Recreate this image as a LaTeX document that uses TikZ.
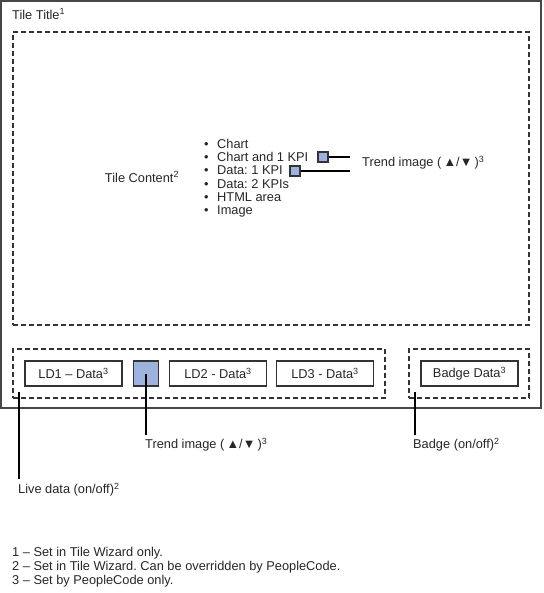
\documentclass[tikz,border=0pt]{standalone}
\usepackage{fontspec}
\setmainfont{Liberation Sans}
\definecolor{trendblue}{HTML}{9DB3DD}
\definecolor{edgegray}{HTML}{333333}
\frenchspacing
\begin{document}
\begin{tikzpicture}[x=1pt,y=-1pt]
        \tikzstyle{every node}=[inner sep=0pt, font=\fontsize{12.8}{15}\selectfont, text=black!85]
        \tikzstyle{zone}=[draw=edgegray, dashed, dash pattern=on 5pt off 3pt, line width=1.1pt, minimum height=49pt]
        \tikzstyle{databox}=[draw=edgegray, line width=1.3pt, minimum width=97pt, minimum height=25pt]
        \tikzstyle{trendbox}=[draw=edgegray, fill=trendblue, line width=1.3pt]
        \tikzstyle{edge}=[black, line width=1.2pt]
        \useasboundingbox (0,0) rectangle (543,593);

        \node[draw=edgegray!90, line width=1.5pt, minimum width=540pt, minimum height=407pt] (tile) at (271,204.5) {};
        \node[anchor=west] (title) at (12,14) {Tile Title\textsuperscript{1}};

        % content area
        \node[zone, minimum width=516pt, minimum height=293pt] (content) at (271,178.5) {};
        \node (contentlbl) at (142,177) {Tile Content\textsuperscript{2}};
        \foreach \t [count=\i] in {Chart, Chart and 1 KPI, Data: 1 KPI, Data: 2 KPIs, HTML area, Image}
            \node[anchor=west] (item\i) at (204,{130+13.5*\i}) {\makebox[13pt][l]{•}\t};
        \node[trendbox, minimum size=10pt] (sq1) at (323,157) {};
        \node[trendbox, minimum size=10pt] (sq2) at (295,171) {};
        \coordinate (sq1end) at (350,157);
        \coordinate (sq2end) at (350,171);
        \node[anchor=west] (trendlbl1) at (362,163) {Trend image (\,▲/▼\,)\textsuperscript{3}};
        \draw[edge] (sq1) -- (sq1end);
        \draw[edge] (sq2) -- (sq2end);

        % live data and badge
        \node[zone, minimum width=372pt] (live) at (199,373.5) {};
        \node[zone, minimum width=120pt] (badge) at (469,373.5) {};
        \node[databox] (ld1) at (73.5,373.5) {LD1 – Data\textsuperscript{3}};
        \node[trendbox, minimum size=25pt] (trend) at (146,373.5) {};
        \node[databox] (ld2) at (218,373.5) {LD2 - Data\textsuperscript{3}};
        \node[databox] (ld3) at (325,373.5) {LD3 - Data\textsuperscript{3}};
        \node[databox] (badgedata) at (469.5,373.5) {Badge Data\textsuperscript{3}};

        \coordinate (livetop) at (19,392);
        \coordinate (liveend) at (19,479);
        \coordinate (trendend) at (146,435);
        \coordinate (badgetop) at (415,392);
        \coordinate (badgeend) at (415,435);
        \node[anchor=west] (livelbl) at (18,490) {Live data (on/off)\textsuperscript{2}};
        \node[anchor=west] (trendlbl2) at (145,445) {Trend image (\,▲/▼\,)\textsuperscript{3}};
        \node[anchor=west] (badgelbl) at (413,445) {Badge (on/off)\textsuperscript{2}};
        \draw[edge] (livetop) -- (liveend);
        \draw[edge] (trend.center) -- (trendend);
        \draw[edge] (badgetop) -- (badgeend);

        % notes
        \foreach \t [count=\i] in {Set in Tile Wizard only., Set in Tile Wizard. Can be overridden by PeopleCode., Set by PeopleCode only.}
            \node[anchor=west] (note\i) at (12,{539+14*\i}) {\i{} – \t};
    \end{tikzpicture}
\end{document}
